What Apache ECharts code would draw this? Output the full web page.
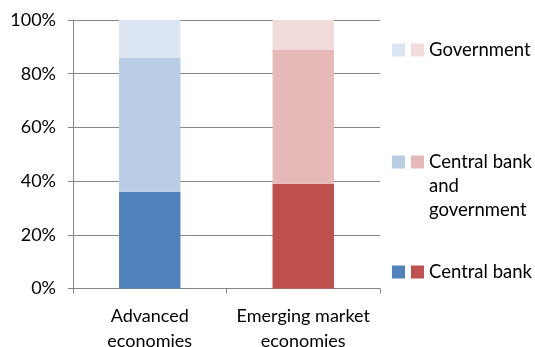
<!DOCTYPE html>
<html>
<head>
<meta charset="utf-8">
<script src="https://cdn.jsdelivr.net/npm/echarts@6/dist/echarts.min.js"></script>
<style>
  html, body { margin: 0; padding: 0; background: #fff; }
  #chart { width: 535px; height: 347px; }
</style>
</head>
<body>
<div id="chart"></div>
<script>
// Who is responsible for the policy, share of economies (%)
const categories = ['Advanced\neconomies', 'Emerging market\neconomies'];
const centralBank = [36, 39];
const centralBankAndGovernment = [50, 50];
const government = [14, 11];
const yTicks = [0, 20, 40, 60, 80, 100];

const blue = ['#4F81BD', '#B9CDE5', '#DCE6F2'];
const red = ['#C0504D', '#E6B9B8', '#F2DCDB'];

const FONT = 'Lato';
const gridColor = '#868686';

// Each layer is split into a blue series (advanced) and a red series (emerging)
function layer(name, values, idx) {
  return [
    {
      name: name + ' (AE)', type: 'bar', stack: 'total', barWidth: '40%',
      itemStyle: { color: blue[idx] },
      data: [values[0], '-']
    },
    {
      name: name + ' (EM)', type: 'bar', stack: 'total', barWidth: '40%',
      itemStyle: { color: red[idx] },
      data: ['-', values[1]]
    }
  ];
}

const series = [
  ...layer('Central bank', centralBank, 0),
  ...layer('Central bank and government', centralBankAndGovernment, 1),
  ...layer('Government', government, 2)
];

// legend rows: [series name, first text line, top]
const legendRows = [
  ['Government', 'Government', 38],
  ['Central bank and government', 'Central bank', 150],
  ['Central bank', 'Central bank', 260]
];
const legendText = { fontFamily: FONT, fontSize: 18.5, color: '#000', lineHeight: 24 };
const legends = [];
legendRows.forEach(([name, label, top]) => {
  legends.push({
    data: [name + ' (AE)'], left: 392, top: top, padding: 0,
    itemWidth: 13, itemHeight: 13, itemGap: 0,
    icon: 'rect', selectedMode: false,
    formatter: () => ' ',
    textStyle: legendText
  });
  legends.push({
    data: [name + ' (EM)'], left: 411, top: top, padding: 0,
    itemWidth: 13, itemHeight: 13, itemGap: 0,
    icon: 'rect', selectedMode: false,
    formatter: () => label,
    textStyle: legendText
  });
});

const chart = echarts.init(document.getElementById('chart'), null, { renderer: 'canvas' });
chart.setOption({
  animation: false,
  backgroundColor: '#fff',
  grid: {
    left: 73, right: 155, top: 20, bottom: 58.5,
    containLabel: false, outerBoundsMode: 'none'
  },
  legend: legends,
  graphic: [{
    type: 'text', left: 429, top: 174,
    style: {
      text: 'and\ngovernment', fontFamily: FONT, fontSize: 18.5,
      fill: '#000', lineHeight: 24
    }
  }],
  xAxis: {
    type: 'category',
    data: categories,
    axisLine: { show: true, lineStyle: { color: gridColor, width: 1 } },
    axisTick: { show: true, length: 5, lineStyle: { color: gridColor } },
    axisLabel: {
      interval: 0, hideOverlap: false,
      fontFamily: FONT, fontSize: 18, color: '#000', lineHeight: 25, margin: 15
    }
  },
  yAxis: {
    type: 'value',
    min: yTicks[0], max: yTicks[yTicks.length - 1], interval: 20,
    axisLine: { show: true, lineStyle: { color: gridColor, width: 1 } },
    axisTick: { show: true, length: 5, lineStyle: { color: gridColor } },
    splitLine: { show: true, lineStyle: { color: gridColor, width: 1 } },
    axisLabel: {
      fontFamily: FONT, fontSize: 18, color: '#000', margin: 17,
      formatter: '{value}%'
    }
  },
  series: series
});
</script>
</body>
</html>
